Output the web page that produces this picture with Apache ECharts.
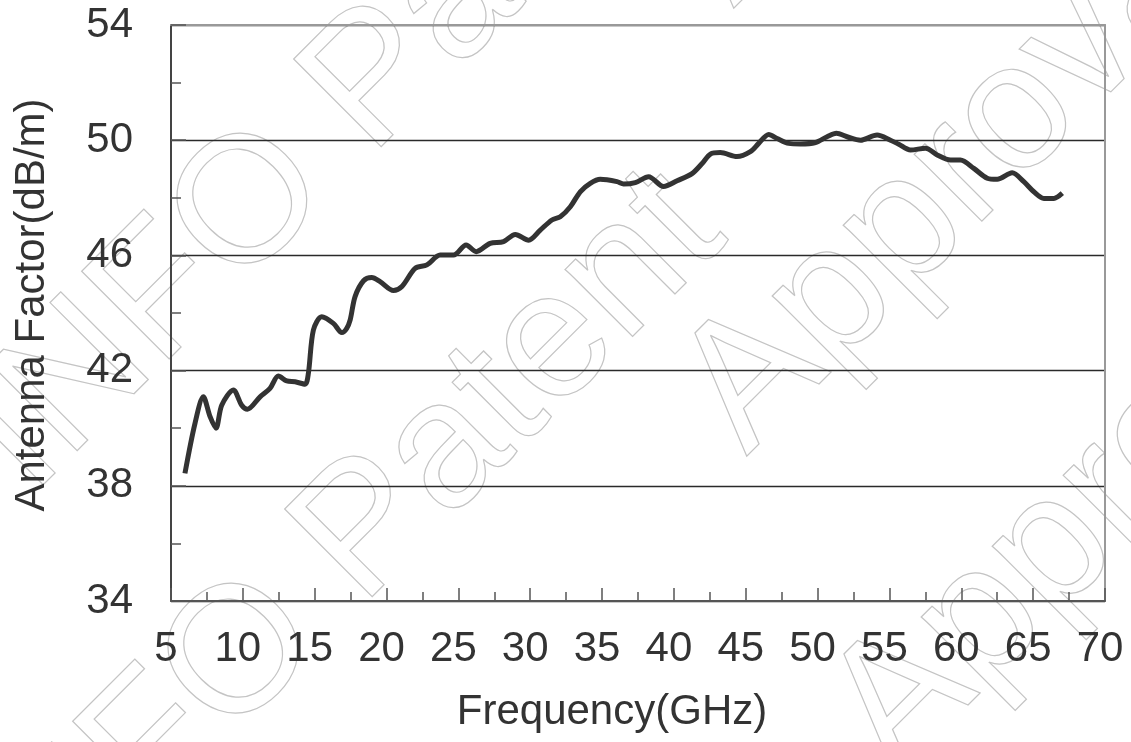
<!DOCTYPE html>
<html>
<head>
<meta charset="utf-8">
<script src="https://cdn.jsdelivr.net/npm/echarts@6/dist/echarts.min.js"></script>
<style>
  html, body { margin: 0; padding: 0; background: #fff; }
  #main { width: 1131px; height: 742px; }
</style>
</head>
<body>
<div id="main"></div>
<script>
// frequency (GHz)
var freq = [5.97, 6.67, 7.25, 7.72, 8.13, 8.53, 9.34, 9.92, 10.32, 11.2, 11.89, 12.47, 13.06, 13.64,
  14.33, 14.56, 14.91, 15.49, 16.3, 16.89, 17.23, 17.47, 17.81, 18.4, 18.97, 19.55, 20.48, 21.07,
  21.99, 22.81, 23.73, 24.66, 25.54, 26.24, 27.21, 28.14, 28.96, 29.89, 30.7, 31.51, 32.09, 32.79,
  33.48, 34.18, 34.87, 36.04, 36.5, 37.31, 38.24, 39.28, 40.22, 41.26, 41.96, 42.54, 43.23, 44.39,
  45.32, 45.9, 46.6, 47.18, 47.99, 48.8, 49.85, 50.66, 51.31, 52.05, 52.98, 54.14, 55.07, 55.65,
  56.46, 57.51, 58.32, 59.25, 59.94, 60.87, 61.8, 62.5, 63.54, 64.35, 65.05, 65.75, 66.44, 67.03];
// antenna factor (dB/m)
var antennaFactor = [38.43, 40.17, 41.09, 40.4, 40.0, 40.8, 41.33, 40.8, 40.66, 41.09, 41.38, 41.81, 41.64, 41.61,
  41.53, 41.9, 43.41, 43.87, 43.64, 43.32, 43.47, 43.76, 44.57, 45.12, 45.23, 45.09, 44.78, 44.92,
  45.55, 45.67, 46.01, 46.01, 46.36, 46.13, 46.42, 46.48, 46.73, 46.53, 46.88, 47.23, 47.34, 47.69,
  48.21, 48.5, 48.64, 48.56, 48.48, 48.53, 48.73, 48.39, 48.59, 48.84, 49.19, 49.52, 49.57, 49.43,
  49.6, 49.89, 50.2, 50.06, 49.89, 49.87, 49.92, 50.12, 50.24, 50.12, 50.0, 50.18, 50.0, 49.86,
  49.66, 49.72, 49.49, 49.31, 49.31, 49.02, 48.68, 48.64, 48.87, 48.56, 48.21, 47.98, 47.98, 48.16];

var xMin = 5, xMax = 70, xStep = 5;
var yMin = 34, yMax = 54, yStep = 4;

var xName = 'Frequency(GHz)';
var yName = 'Antenna Factor(dB/m)';
var stamp = ['INFO Patent', 'Approval'];

var pts = [];
for (var i = 0; i < freq.length; i++) {
  pts.push([freq[i], antennaFactor[i]]);
}

var font = "'Liberation Sans', Arial, sans-serif";
var wmStyle = function (txt) {
  return {
    text: txt,
    font: '180px ' + font,
    verticalAlign: 'bottom',
    fill: 'none',
    stroke: '#c4c4c4',
    lineWidth: 1.2
  };
};
var rot = Math.PI / 4;

var myChart = echarts.init(document.getElementById('main'));
var option = {
  backgroundColor: '#ffffff',
  animation: false,
  graphic: {
    elements: [
      // watermark, outlined text
      { type: 'text', x: 60, y: 525, rotation: rot, z: -10, silent: true, style: wmStyle(stamp[0]) },
      { type: 'text', x: 51, y: 975, rotation: rot, z: -10, silent: true, style: wmStyle(stamp[0]) },
      { type: 'text', x: 762, y: 37, rotation: rot, z: -10, silent: true, style: wmStyle(stamp[1]) },
      { type: 'text', x: 775, y: 485, rotation: rot, z: -10, silent: true, style: wmStyle(stamp[1]) },
      { type: 'text', x: 924, y: 806, rotation: rot, z: -10, silent: true, style: wmStyle(stamp[1]) }
    ]
  },
  grid: {
    left: 171,
    right: 26,
    top: 25,
    bottom: 141
  },
  xAxis: [
    {
      type: 'value',
      min: xMin,
      max: xMax,
      interval: xStep,
      name: xName,
      nameLocation: 'middle',
      nameGap: 90,
      nameTextStyle: {
        color: '#333',
        fontSize: 42,
        fontFamily: font,
        padding: [0, 52, 0, 0]
      },
      axisLine: { lineStyle: { color: '#555', width: 2 } },
      axisTick: { inside: true, length: 13, lineStyle: { color: '#555', width: 1.5 } },
      minorTick: { show: true, splitNumber: 2, length: 9, lineStyle: { color: '#555', width: 1.5 } },
      axisLabel: {
        color: '#333',
        fontSize: 42,
        fontFamily: font,
        margin: 27,
        padding: [0, 10, 0, 0]
      },
      splitLine: { show: false }
    },
    {
      type: 'value',
      position: 'top',
      min: xMin,
      max: xMax,
      axisLine: { show: true, lineStyle: { color: '#999', width: 2 } },
      axisTick: { show: false },
      axisLabel: { show: false },
      splitLine: { show: false }
    }
  ],
  yAxis: [
    {
      type: 'value',
      min: yMin,
      max: yMax,
      interval: yStep,
      name: yName,
      nameLocation: 'middle',
      nameGap: 118,
      nameTextStyle: {
        color: '#333',
        fontSize: 42,
        fontFamily: font,
        padding: [0, 0, 0, 16]
      },
      axisLine: { show: true, lineStyle: { color: '#444', width: 2 } },
      axisTick: { show: true, inside: true, length: 15, lineStyle: { color: '#555', width: 1.5 } },
      minorTick: { show: true, splitNumber: 2, length: 10, lineStyle: { color: '#555', width: 1.5 } },
      axisLabel: {
        color: '#333',
        fontSize: 42,
        fontFamily: font,
        margin: 38
      },
      splitLine: {
        show: true,
        lineStyle: { color: '#2a2a2a', width: 1.3 }
      }
    },
    {
      type: 'value',
      position: 'right',
      min: yMin,
      max: yMax,
      axisLine: { show: true, lineStyle: { color: '#999', width: 2 } },
      axisTick: { show: false },
      axisLabel: { show: false },
      splitLine: { show: false }
    }
  ],
  series: [
    {
      name: yName,
      type: 'line',
      data: pts,
      smooth: 0.3,
      showSymbol: false,
      symbol: 'none',
      lineStyle: { color: '#333', width: 5 },
      z: 5
    }
  ]
};
myChart.setOption(option);
</script>
</body>
</html>
